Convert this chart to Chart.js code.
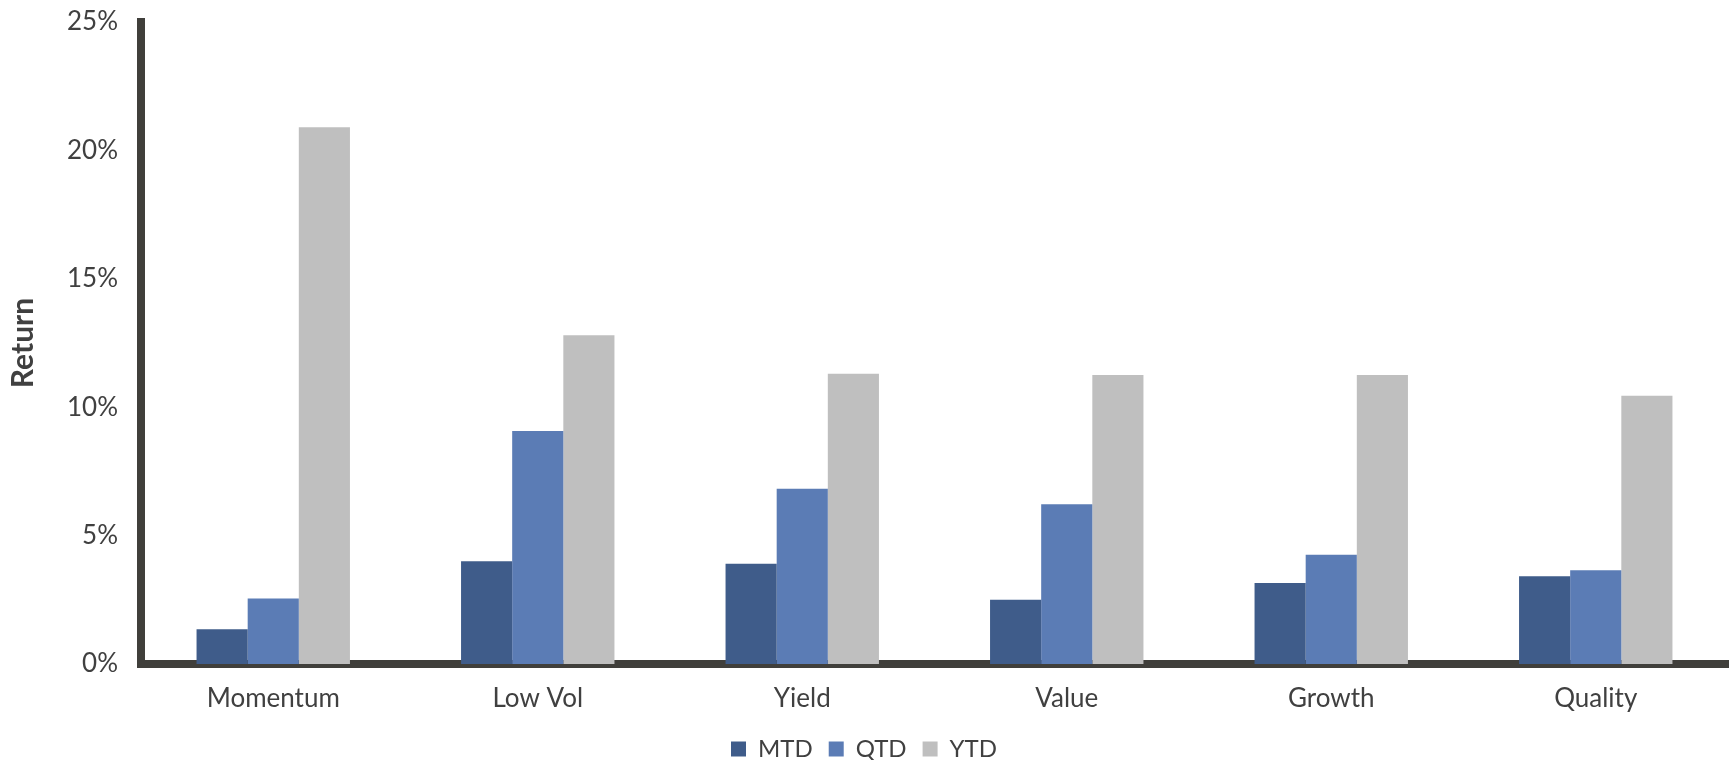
<!DOCTYPE html>
<html>
<head>
<meta charset="utf-8">
<script src="https://cdn.jsdelivr.net/npm/chart.js@4.4.1/dist/chart.umd.min.js"></script>
<style>
  html, body { margin: 0; padding: 0; background: #ffffff; overflow: hidden; }
  #wrap { position: relative; width: 1733px; height: 760px; overflow: hidden; }
  #box { position: absolute; left: 0; top: 0; width: 1733px; height: 772px; }
</style>
</head>
<body>
<div id="wrap"><div id="box"><canvas id="chart"></canvas></div></div>
<script>
// Factor returns by period (percent)
const categories = ['Momentum', 'Low Vol', 'Yield', 'Value', 'Growth', 'Quality'];
const seriesNames = ['MTD', 'QTD', 'YTD'];
const mtd = [1.35, 4.0, 3.9, 2.5, 3.15, 3.42];
const qtd = [2.55, 9.07, 6.82, 6.22, 4.25, 3.65];
const ytd = [20.9, 12.8, 11.3, 11.25, 11.25, 10.45];
const yTicks = [0, 5, 10, 15, 20, 25];

const colors = ['#3F5C8A', '#5B7CB5', '#BFBFBF'];
const textColor = '#404040';
const axisColor = '#403F3B';
const family = 'Lato, "Open Sans", sans-serif';

const datasets = [mtd, qtd, ytd].map((vals, i) => ({
  label: seriesNames[i],
  data: vals,
  backgroundColor: colors[i],
  borderWidth: 0,
  categoryPercentage: 0.58,
  barPercentage: 1.0
}));

new Chart(document.getElementById('chart'), {
  type: 'bar',
  data: { labels: categories, datasets },
  options: {
    responsive: true,
    maintainAspectRatio: false,
    animation: false,
    layout: { padding: { top: 22, right: 5, bottom: 1, left: 0 } },
    plugins: {
      tooltip: { enabled: false },
      legend: {
        position: 'bottom',
        labels: {
          boxWidth: 15,
          boxHeight: 15,
          padding: 16,
          color: textColor,
          font: { family, size: 24 }
        }
      }
    },
    scales: {
      x: {
        grid: { display: false, drawTicks: false },
        border: { display: true, color: axisColor, width: 8 },
        ticks: { color: textColor, font: { family, size: 26 }, padding: 19 },
        afterFit: (s) => { s.height = 57; }
      },
      y: {
        min: yTicks[0],
        max: yTicks[yTicks.length - 1],
        grid: { display: false, drawTicks: false },
        border: { display: true, color: axisColor, width: 8 },
        afterBuildTicks: (s) => { s.ticks = yTicks.map(v => ({ value: v })); },
        ticks: {
          color: textColor,
          font: { family, size: 26 },
          padding: 23,
          callback: (v) => v + '%'
        },
        title: {
          display: true,
          text: 'Return',
          color: textColor,
          font: { family, size: 30, weight: 'bold' },
          padding: { top: 5, bottom: 0 }
        },
        afterFit: (s) => {
          s.width = 141;
          // keep end labels from pushing the plot area inward
          s.paddingTop = 0;
          s.paddingBottom = 0;
        }
      }
    }
  }
});
</script>
</body>
</html>
